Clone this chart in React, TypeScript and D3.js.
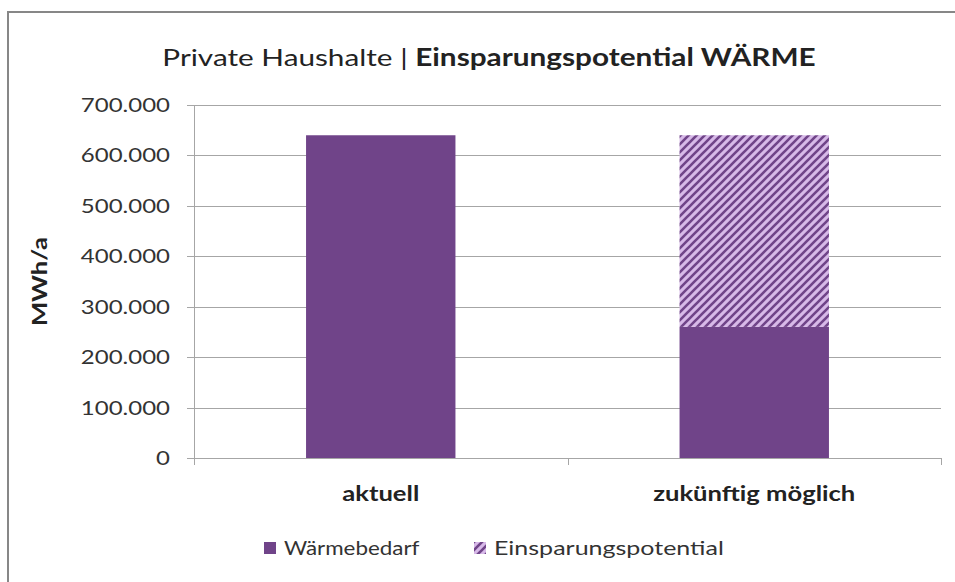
import React from 'react';
import * as d3 from 'd3';

const categories = ['aktuell', 'zukünftig möglich'];
const waermebedarf = [640000, 260000];
const einsparung = [0, 380000];
const yTicks = [0, 100000, 200000, 300000, 400000, 500000, 600000, 700000];
const seriesNames = ['Wärmebedarf', 'Einsparungspotential'];

const dark = '#704489';
const light = '#d7b9e8';
const grid = '#a6a6a6';
const font = 'Lato, "Open Sans", sans-serif';

const fmt = (v: number) => (v === 0 ? '0' : d3.format(',')(v).replace(/,/g, '.'));

// the original is a bit stretched horizontally, so text gets a scaleX
const T = ({ x, y, sx = 1.24, rot = 0, anchor = 'start', size = 20, bold = false, fill = '#333', children }: any) => (
  <text
    transform={`translate(${x},${y}) rotate(${rot}) scale(${sx},1)`}
    dy="0.35em"
    textAnchor={anchor}
    fontFamily={font}
    fontSize={size}
    fontWeight={bold ? 'bold' : 'normal'}
    fill={fill}
  >
    {children}
  </text>
);

const App = () => {
  const width = 955;
  const height = 582;
  const plot = { left: 194, right: 941, top: 105, bottom: 458 };

  const x = d3.scaleBand().domain(categories).range([plot.left, plot.right]).paddingInner(0.6).paddingOuter(0.3);
  const xOuter = d3.scaleBand().domain(categories).range([plot.left, plot.right]);
  const y = d3.scaleLinear().domain([0, 700000]).range([plot.bottom, plot.top]);

  const stacks = categories.map((c, i) => ({
    cat: c,
    base: waermebedarf[i],
    save: einsparung[i],
  }));

  return (
    <svg width={width} height={height} style={{ position: 'absolute', left: 0, top: 0, background: '#fff' }}>
      <defs>
        <pattern id="hatch" patternUnits="userSpaceOnUse" width={8} height={8}>
          <rect width={8} height={8} fill={light} />
          <path d="M-2,2 l4,-4 M0,8 l8,-8 M6,10 l4,-4" stroke={dark} strokeWidth={2.6} />
        </pattern>
      </defs>
      <rect x={8} y={12} width={width + 10} height={height + 10} fill="#fff" stroke="#878787" strokeWidth={2} />

      <T x={489} y={58} anchor="middle" size={24} sx={1.24} fill="#222">
        Private Haushalte |{' '}
        <tspan fontWeight="bold">Einsparungspotential WÄRME</tspan>
      </T>

      {yTicks.map((t) => (
        <g key={t}>
          <line x1={plot.left - 7} x2={plot.right} y1={Math.round(y(t)) + 0.5} y2={Math.round(y(t)) + 0.5} stroke={grid} />
          <T x={170} y={y(t)} anchor="end" sx={1.2}>
            {fmt(t)}
          </T>
        </g>
      ))}
      <line x1={plot.left + 0.5} x2={plot.left + 0.5} y1={plot.top} y2={plot.bottom + 7} stroke={grid} />
      {categories.map((c) => (
        <line
          key={c}
          x1={Math.round((xOuter(c) as number) + xOuter.bandwidth()) + 0.5}
          x2={Math.round((xOuter(c) as number) + xOuter.bandwidth()) + 0.5}
          y1={plot.bottom}
          y2={plot.bottom + 7}
          stroke={grid}
        />
      ))}

      {stacks.map((s) => (
        <g key={s.cat}>
          <rect x={x(s.cat)} y={y(s.base)} width={x.bandwidth()} height={y(0) - y(s.base)} fill={dark} />
          {s.save > 0 && (
            <rect
              x={x(s.cat)}
              y={y(s.base + s.save)}
              width={x.bandwidth()}
              height={y(s.base) - y(s.base + s.save)}
              fill="url(#hatch)"
            />
          )}
          <T x={(x(s.cat) as number) + x.bandwidth() / 2} y={494} anchor="middle" bold sx={1.28} fill="#222">
            {s.cat}
          </T>
        </g>
      ))}

      <T x={40} y={(plot.top + plot.bottom) / 2} rot={-90} anchor="middle" bold sx={1.28} fill="#222">
        MWh/a
      </T>

      <rect x={264} y={542} width={12} height={12} fill={dark} />
      <T x={284} y={548} sx={1.12}>{seriesNames[0]}</T>
      <rect x={474} y={542} width={12} height={12} fill="url(#hatch)" />
      <T x={494} y={548} sx={1.25}>{seriesNames[1]}</T>
    </svg>
  );
};

export default App;
